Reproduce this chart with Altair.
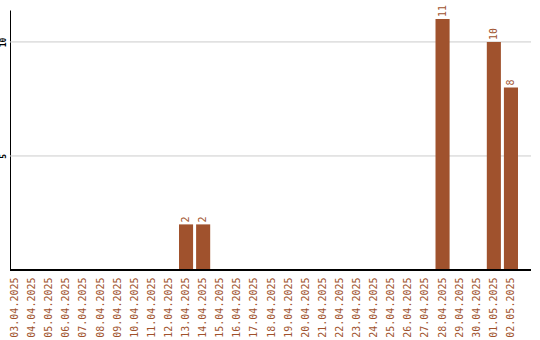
import altair as alt
import pandas as pd

# Daily counts, 03.04.2025 - 02.05.2025
dates = [
    "03.04.2025", "04.04.2025", "05.04.2025", "06.04.2025", "07.04.2025",
    "08.04.2025", "09.04.2025", "10.04.2025", "11.04.2025", "12.04.2025",
    "13.04.2025", "14.04.2025", "15.04.2025", "16.04.2025", "17.04.2025",
    "18.04.2025", "19.04.2025", "20.04.2025", "21.04.2025", "22.04.2025",
    "23.04.2025", "24.04.2025", "25.04.2025", "26.04.2025", "27.04.2025",
    "28.04.2025", "29.04.2025", "30.04.2025", "01.05.2025", "02.05.2025",
]
counts = [0, 0, 0, 0, 0, 0, 0, 0, 0, 0,
          2, 2, 0, 0, 0, 0, 0, 0, 0, 0,
          0, 0, 0, 0, 0, 11, 0, 0, 10, 8]
grid_values = [5, 10]

df = pd.DataFrame({"date": dates, "count": counts})
grid_df = pd.DataFrame({"g": grid_values})

W, H = 521, 260
BROWN = "#A0522D"
MONO = "DejaVu Sans Mono"

y_scale = alt.Scale(domain=[0, 11.4], nice=False)

x_enc = alt.X(
    "date:N",
    sort=dates,
    scale=alt.Scale(range=[-2, 508], paddingInner=0.176, paddingOuter=0),
    axis=alt.Axis(
        title=None, labelAngle=-90, labelColor=BROWN, labelFont=MONO,
        labelFontSize=10, ticks=False, domain=False, grid=False,
        labelPadding=7, labelOverlap=False,
    ),
)
y_enc = alt.Y(
    "count:Q",
    scale=y_scale,
    axis=alt.Axis(
        title=None, values=grid_values, labelAngle=-90, labelFont=MONO,
        labelFontSize=8, labelFontWeight="bold", labelColor="black",
        ticks=False, domain=True, domainColor="black", domainWidth=1,
        grid=False, labelPadding=3,
    ),
)

# horizontal gridlines across the full plot width
grid = alt.Chart(grid_df).mark_rule(color="#cccccc", strokeWidth=1).encode(
    y=alt.Y("g:Q", scale=y_scale), x=alt.value(0), x2=alt.value(W)
)

bars = alt.Chart(df).mark_bar(color=BROWN).encode(x=x_enc, y=y_enc)

labels = alt.Chart(df).transform_filter("datum.count > 0").mark_text(
    angle=270, align="left", baseline="middle", dx=2,
    color=BROWN, font=MONO, fontSize=10,
).encode(x=alt.X("date:N", sort=dates), y="count:Q", text="count:Q")

baseline = alt.Chart(df).mark_rule(color="black", strokeWidth=1).encode(
    x=alt.value(0), x2=alt.value(W), y=alt.value(H)
)

chart = alt.layer(grid, bars, labels, baseline).properties(
    width=W, height=H,
    background="white",
    autosize=alt.AutoSizeParams(type="none"),
    padding={"left": 10, "top": 10, "right": 9, "bottom": 70},
).configure_view(stroke=None)

chart.save("out.html", embed_options={"renderer": "svg", "actions": False})
